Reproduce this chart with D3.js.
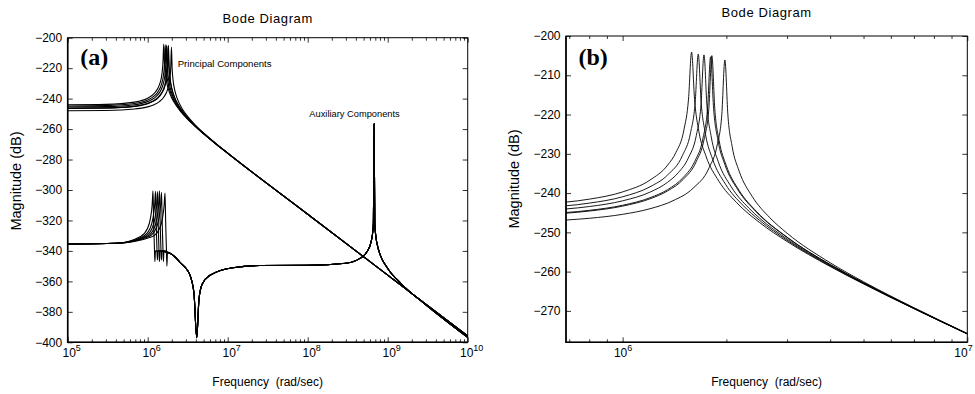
<!DOCTYPE html>
<html>
<head>
<meta charset="utf-8">
<script src="https://cdn.jsdelivr.net/npm/d3@7"></script>
<style>
  body { margin: 0; background: #fff; }
  text { font-family: "Liberation Sans", Arial, Helvetica, sans-serif; fill: #000; }
</style>
</head>
<body>
<svg id="chart" width="975" height="394"></svg>
<script>
// magnitude curves: [frequency (rad/sec), magnitude (dB)]
const principal1 = [[1e5,-244.07],[3e5,-243.78],[6.85e5,-242.3],[8e5,-241.55],[1e6,-239.7],[1.2e6,-236.7],[1.35e6,-232.9],[1.4265e6,-229.7],[1.506e6,-223.9],[1.553e6,-216.05],[1.585e6,-204.1],[1.617e6,-216.2],[1.664e6,-224.3],[1.7435e6,-230.5],[1.902e6,-236.97],[2.14e6,-242.4],[2.5e6,-247.55],[3e6,-252.34],[4e6,-258.7],[5e6,-263.14],[7e6,-269.44],[1e7,-275.88],[1e8,-315.9],[1e9,-355.9],[1e10,-395.9]]
const principal2 = [[1e5,-244.84],[3e5,-244.58],[6.85e5,-243.24],[8e5,-242.56],[1e6,-240.94],[1.2e6,-238.41],[1.35e6,-235.4],[1.491e6,-230.45],[1.574e6,-224.65],[1.624e6,-216.82],[1.657e6,-204.6],[1.69e6,-217.0],[1.74e6,-225.08],[1.823e6,-231.31],[1.988e6,-237.74],[2.237e6,-243.17],[2.5e6,-246.99],[3e6,-252.02],[4e6,-258.55],[5e6,-263.05],[7e6,-269.4],[1e7,-275.85],[1e8,-315.9],[1e9,-355.9],[1e10,-395.9]]
const principal3 = [[1e5,-245.51],[3e5,-245.27],[6.85e5,-244.04],[8e5,-243.43],[1e6,-241.97],[1.2e6,-239.77],[1.35e6,-237.26],[1.45e6,-234.82],[1.55e6,-231.12],[1.636e6,-225.32],[1.688e6,-217.49],[1.722e6,-204.8],[1.756e6,-217.67],[1.808e6,-225.75],[1.894e6,-231.98],[2.066e6,-238.41],[2.325e6,-243.84],[2.5e6,-246.43],[3e6,-251.71],[4e6,-258.4],[5e6,-262.96],[7e6,-269.36],[1e7,-275.84],[1e8,-315.9],[1e9,-355.9],[1e10,-395.9]]
const principal4 = [[1e5,-246.28],[3e5,-246.07],[6.85e5,-244.95],[8e5,-244.4],[1e6,-243.1],[1.2e6,-241.2],[1.35e6,-239.13],[1.5e6,-236.0],[1.62e6,-231.89],[1.71e6,-226.09],[1.764e6,-218.26],[1.8e6,-205.3],[1.836e6,-218.44],[1.89e6,-226.52],[1.98e6,-232.75],[2.16e6,-239.18],[2.43e6,-244.61],[3e6,-251.31],[4e6,-258.21],[5e6,-262.85],[7e6,-269.31],[1e7,-275.81],[1e8,-315.9],[1e9,-355.9],[1e10,-395.9]]
const principal5 = [[1e5,-246.43],[3e5,-246.22],[6.85e5,-245.12],[8e5,-244.58],[1e6,-243.32],[1.2e6,-241.47],[1.35e6,-239.46],[1.5e6,-236.48],[1.634e6,-232.04],[1.724e6,-226.24],[1.779e6,-218.41],[1.815e6,-205.0],[1.851e6,-218.59],[1.906e6,-226.67],[1.997e6,-232.9],[2.178e6,-239.33],[2.45e6,-244.76],[3e6,-251.23],[4e6,-258.19],[5e6,-262.84],[7e6,-269.3],[1e7,-275.81],[1e8,-315.9],[1e9,-355.9],[1e10,-395.9]]
const principal6 = [[1e5,-247.95],[3e5,-247.77],[6.85e5,-246.86],[8e5,-246.42],[1e6,-245.41],[1.2e6,-243.99],[1.4e6,-241.95],[1.6e6,-238.78],[1.782e6,-233.55],[1.881e6,-227.75],[1.94e6,-219.92],[1.98e6,-206.1],[2.02e6,-220.1],[2.079e6,-228.18],[2.178e6,-234.41],[2.376e6,-240.84],[2.673e6,-246.27],[3e6,-250.22],[4e6,-257.74],[5e6,-262.58],[7e6,-269.18],[1e7,-275.76],[1e8,-315.9],[1e9,-355.9],[1e10,-395.9]]

// auxiliary components: their own low-frequency part, then a shared tail (notch + high mode)
const auxHead1 = [[1e5,-335.5],[4e5,-335],[8.16e5,-330.5],[9.9e5,-325.5],[1.083e6,-318.5],[1.136e6,-310],[1.165e6,-300.5],[1.188e6,-322],[1.212e6,-337],[1.229e6,-347],[1.252e6,-340],[1.9e6,-341.5],[2.2e6,-344]]
const auxHead2 = [[1e5,-335.5],[4e5,-335],[8.76e5,-330.5],[1.064e6,-325.5],[1.164e6,-318.5],[1.221e6,-310],[1.252e6,-300.8],[1.277e6,-322],[1.302e6,-337],[1.321e6,-346],[1.346e6,-340],[1.9e6,-341.5],[2.2e6,-344]]
const auxHead3 = [[1e5,-335.5],[4e5,-335],[9.28e5,-330.5],[1.127e6,-325.5],[1.233e6,-318.5],[1.293e6,-310],[1.326e6,-301],[1.353e6,-322],[1.379e6,-337],[1.399e6,-347],[1.425e6,-340],[1.9e6,-341.5],[2.2e6,-344]]
const auxHead4 = [[1e5,-335.5],[4e5,-335],[9.83e5,-330.5],[1.193e6,-325.5],[1.306e6,-318.5],[1.369e6,-310],[1.404e6,-300.5],[1.432e6,-322],[1.46e6,-337],[1.481e6,-346],[1.509e6,-340],[1.9e6,-341.5],[2.2e6,-344]]
const auxHead5 = [[1e5,-335.5],[4e5,-335],[1.042e6,-330.5],[1.265e6,-325.5],[1.384e6,-318.5],[1.451e6,-310],[1.488e6,-301.5],[1.518e6,-322],[1.548e6,-337],[1.57e6,-347],[1.6e6,-340],[1.9e6,-341.5],[2.2e6,-344]]
const auxHead6 = [[1e5,-335.5],[4e5,-335],[1.152e6,-330.5],[1.399e6,-325.5],[1.531e6,-318.5],[1.605e6,-310],[1.646e6,-302],[1.679e6,-322],[1.712e6,-338],[1.737e6,-350],[1.769e6,-341],[1.9e6,-341.5],[2.2e6,-344]]
const auxTail = [[2.53e6,-347.5],[3.07e6,-352],[3.38e6,-356],[3.79e6,-368],[4.1e6,-397],[4.37e6,-372],[4.77e6,-362],[6e6,-356],[1.16e7,-351],[2.53e7,-349.6],[1e8,-349.5],[3e8,-348.1],[4.5e8,-344.9],[5.5e8,-340.6],[6.2e8,-334],[6.5e8,-327.6],[6.62e8,-321.9],[6.76e8,-256.5],[6.9e8,-322.1],[7.1e8,-330.2],[7.44e8,-336.4],[8.1e8,-342.9],[1e9,-351.5],[1.5e9,-361.9],[3e9,-375.4],[1e10,-396.8]]

const principal = [principal1, principal2, principal3, principal4, principal5, principal6]
const auxiliary = [auxHead1, auxHead2, auxHead3, auxHead4, auxHead5, auxHead6].map((h) => h.concat(auxTail))

const yTicksA = [-400, -380, -360, -340, -320, -300, -280, -260, -240, -220, -200]
const yTicksB = [-270, -260, -250, -240, -230, -220, -210, -200]

const svg = d3.select('#chart')

const panels = [
  {
    id: 'a', left: 67.7, right: 467.7, top: 37.7, bottom: 342.3,
    xDomain: [1e5, 1e10], yDomain: [-400, -200], yTicks: yTicksA,
    series: principal.concat(auxiliary), titleY: 22.5,
    ylabelX: 21, ylabelY: 181, expDx: 4, labelMaxX: 975,
  },
  {
    id: 'b', left: 566, right: 967.3, top: 36, bottom: 342.3,
    xDomain: [6.85e5, 1e7], yDomain: [-278, -200], yTicks: yTicksB,
    series: principal, titleY: 16.7,
    ylabelX: 519, ylabelY: 179, expDx: 0.5, labelMaxX: 963.5,
  },
]

panels.forEach((p) => {
  const x = d3.scaleLog().domain(p.xDomain).range([p.left, p.right])
  const y = d3.scaleLinear().domain(p.yDomain).range([p.bottom, p.top])
  const g = svg.append('g')
  const w = p.right - p.left
  const h = p.bottom - p.top

  g.append('clipPath').attr('id', 'clip-' + p.id)
      .append('rect')
      .attr('x', p.left).attr('y', p.top)
      .attr('width', w).attr('height', h)

  const line = d3.line()
      .x((d) => x(d[0]))
      .y((d) => y(d[1]))
      .curve(d3.curveMonotoneX)

  g.append('g')
      .attr('clip-path', `url(#clip-${p.id})`)
      .selectAll('path')
      .data(p.series)
      .join('path')
      .attr('d', line)
      .attr('fill', 'none')
      .attr('stroke', '#000')
      .attr('stroke-width', p.id === 'a' ? 1.1 : 0.9)

  // ticks point inward on all four sides (matlab box)
  const majors = x.ticks().filter((v) => Math.abs(Math.log10(v) % 1) < 1e-9)
  const minors = x.ticks().filter((v) => Math.abs(Math.log10(v) % 1) > 1e-9)
  const tickStyle = (sel) => {
    sel.select('.domain').remove()
    sel.selectAll('text').remove()
    sel.selectAll('line').attr('stroke', '#000').attr('stroke-width', 0.8)
  }
  g.append('g').attr('transform', `translate(0,${p.bottom})`)
      .call(d3.axisBottom(x).tickValues(minors).tickSize(-3)).call(tickStyle)
  g.append('g').attr('transform', `translate(0,${p.bottom})`)
      .call(d3.axisBottom(x).tickValues(majors).tickSize(-5)).call(tickStyle)
  g.append('g').attr('transform', `translate(0,${p.top})`)
      .call(d3.axisTop(x).tickValues(minors).tickSize(-3)).call(tickStyle)
  g.append('g').attr('transform', `translate(0,${p.top})`)
      .call(d3.axisTop(x).tickValues(majors).tickSize(-5)).call(tickStyle)
  g.append('g').attr('transform', `translate(${p.left},0)`)
      .call(d3.axisLeft(y).tickValues(p.yTicks).tickSize(-5)).call(tickStyle)
  g.append('g').attr('transform', `translate(${p.right},0)`)
      .call(d3.axisRight(y).tickValues(p.yTicks).tickSize(-5)).call(tickStyle)

  // box
  g.append('rect')
      .attr('x', p.left).attr('y', p.top)
      .attr('width', w).attr('height', h)
      .attr('fill', 'none').attr('stroke', '#000').attr('stroke-width', 1)
  g.append('path')
      .attr('d', `M${p.left},${p.top}V${p.bottom}H${p.right}`)
      .attr('fill', 'none').attr('stroke', '#000').attr('stroke-width', 1.6)

  // y tick labels
  g.selectAll('text.ytick')
      .data(p.yTicks)
      .join('text')
      .attr('class', 'ytick')
      .attr('x', p.left - 5.5)
      .attr('y', (d) => y(d))
      .attr('dy', '0.35em')
      .attr('text-anchor', 'end')
      .attr('font-size', 12)
      .text((d) => d3.format('d')(d))

  // x tick labels as 10^n
  const xl = g.selectAll('text.xtick')
      .data(majors)
      .join('text')
      .attr('class', 'xtick')
      .attr('x', (d) => Math.min(x(d) + p.expDx, p.labelMaxX))
      .attr('y', p.bottom + 15)
      .attr('text-anchor', 'middle')
      .attr('font-size', 12)
  xl.append('tspan').text('10')
  xl.append('tspan')
      .attr('dy', -6)
      .attr('font-size', 9)
      .text((d) => Math.round(Math.log10(d)))

  // titles and axis labels
  g.append('text')
      .attr('x', (p.left + p.right) / 2)
      .attr('y', p.titleY)
      .attr('text-anchor', 'middle')
      .attr('font-size', 13)
      .attr('letter-spacing', 0.6)
      .text('Bode Diagram')
  g.append('text')
      .attr('x', (p.left + p.right) / 2)
      .attr('y', 386)
      .attr('text-anchor', 'middle')
      .attr('font-size', 12)
      .style('white-space', 'pre')
      .text('Frequency  (rad/sec)')
  g.append('text')
      .attr('transform', `translate(${p.ylabelX},${p.ylabelY}) rotate(-90)`)
      .attr('text-anchor', 'middle')
      .attr('font-size', 14.5)
      .text('Magnitude (dB)')

  g.append('text')
      .attr('x', p.left + 12.5)
      .attr('y', 65)
      .style('font-family', '"Liberation Serif", "Times New Roman", serif')
      .attr('font-weight', 'bold')
      .attr('font-size', 24)
      .text(`(${p.id})`)
})

// annotations in panel (a)
svg.append('text')
    .attr('x', 177.7).attr('y', 66.7)
    .attr('font-size', 9.6)
    .text('Principal Components')
svg.append('text')
    .attr('x', 309.3).attr('y', 116.7)
    .attr('font-size', 9.3)
    .text('Auxiliary Components')
</script>
</body>
</html>
